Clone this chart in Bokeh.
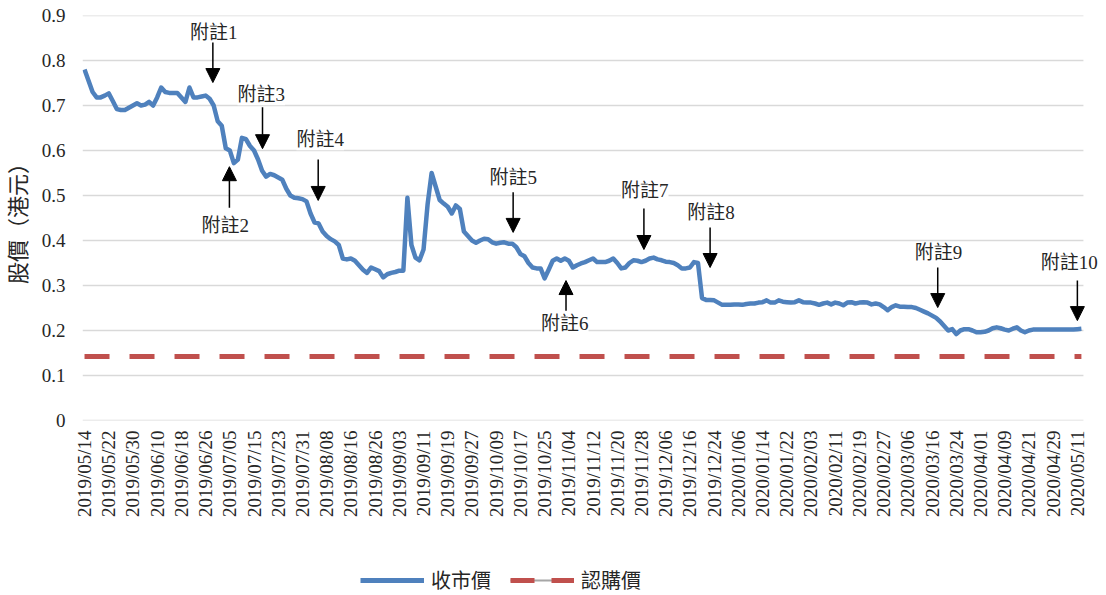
import math
from bokeh.plotting import figure
from bokeh.layouts import column
from bokeh.models import (Range1d, FixedTicker, Legend, LegendItem, Label,
                          Arrow, NormalHead, PrintfTickFormatter, ColumnDataSource)
from bokeh.embed import file_html
from bokeh.resources import INLINE

# ---------------- data ----------------
tick_labels = [
    "2019/05/14", "2019/05/22", "2019/05/30", "2019/06/10", "2019/06/18",
    "2019/06/26", "2019/07/05", "2019/07/15", "2019/07/23", "2019/07/31",
    "2019/08/08", "2019/08/16", "2019/08/26", "2019/09/03", "2019/09/11",
    "2019/09/19", "2019/09/27", "2019/10/09", "2019/10/17", "2019/10/25",
    "2019/11/04", "2019/11/12", "2019/11/20", "2019/11/28", "2019/12/06",
    "2019/12/16", "2019/12/24", "2020/01/06", "2020/01/14", "2020/01/22",
    "2020/02/03", "2020/02/11", "2020/02/19", "2020/02/27", "2020/03/06",
    "2020/03/16", "2020/03/24", "2020/04/01", "2020/04/09", "2020/04/21",
    "2020/04/29", "2020/05/11",
]
label_step = 6  # one date label every 6 trading days

close_price = [
    0.780, 0.755, 0.730, 0.718, 0.718, 0.722, 0.727, 0.710, 0.692, 0.690,
    0.690, 0.695, 0.700, 0.705, 0.700, 0.702, 0.708, 0.700, 0.718, 0.740,
    0.730, 0.728, 0.728, 0.728, 0.718, 0.708, 0.740, 0.718, 0.718, 0.720,
    0.722, 0.715, 0.700, 0.665, 0.655, 0.605, 0.600, 0.572, 0.580, 0.628,
    0.625, 0.610, 0.600, 0.580, 0.555, 0.542, 0.548, 0.545, 0.540, 0.535,
    0.515, 0.500, 0.495, 0.494, 0.492, 0.487, 0.460, 0.440, 0.438, 0.420,
    0.410, 0.403, 0.398, 0.390, 0.360, 0.358, 0.360, 0.355, 0.345, 0.335,
    0.328, 0.340, 0.336, 0.332, 0.318, 0.325, 0.328, 0.330, 0.333, 0.333,
    0.495, 0.390, 0.362, 0.356, 0.380, 0.480, 0.550, 0.520, 0.490, 0.482,
    0.475, 0.460, 0.478, 0.470, 0.420, 0.410, 0.400, 0.395, 0.400, 0.404,
    0.403, 0.396, 0.393, 0.395, 0.396, 0.393, 0.393, 0.385, 0.370, 0.365,
    0.350, 0.340, 0.338, 0.338, 0.316, 0.335, 0.355, 0.360, 0.355, 0.360,
    0.355, 0.340, 0.345, 0.349, 0.352, 0.356, 0.360, 0.352, 0.352, 0.352,
    0.355, 0.360, 0.350, 0.338, 0.340, 0.350, 0.356, 0.355, 0.352, 0.355,
    0.360, 0.362, 0.358, 0.356, 0.353, 0.352, 0.350, 0.345, 0.338, 0.338,
    0.340, 0.352, 0.350, 0.272, 0.268, 0.268, 0.267, 0.262, 0.257, 0.257,
    0.257, 0.258, 0.258, 0.257, 0.259, 0.260, 0.260, 0.262, 0.263, 0.267,
    0.262, 0.262, 0.267, 0.264, 0.263, 0.262, 0.263, 0.267, 0.263, 0.262,
    0.262, 0.260, 0.257, 0.260, 0.262, 0.258, 0.262, 0.260, 0.256, 0.262,
    0.263, 0.260, 0.262, 0.263, 0.262, 0.258, 0.260, 0.258, 0.252, 0.245,
    0.252, 0.256, 0.253, 0.253, 0.252, 0.252, 0.250, 0.246, 0.242, 0.238,
    0.233, 0.228, 0.220, 0.210, 0.200, 0.203, 0.192, 0.200, 0.203, 0.203,
    0.200, 0.196, 0.196, 0.197, 0.200, 0.205, 0.207, 0.205, 0.202, 0.200,
    0.204, 0.207, 0.200, 0.196, 0.200, 0.202, 0.202, 0.202, 0.202, 0.202,
    0.202, 0.202, 0.202, 0.202, 0.202, 0.202, 0.203, 0.204,
]
subscription_price = 0.142

y_ticks = [0, 0.1, 0.2, 0.3, 0.4, 0.5, 0.6, 0.7, 0.8, 0.9]

note_labels = ["附註1", "附註2", "附註3", "附註4", "附註5",
               "附註6", "附註7", "附註8", "附註9", "附註10"]
note_idx = [31.8, 35.9, 44.1, 57.9, 106.2, 119.3, 138.6, 155.0, 211.4, 246.0]
note_text_idx = [32.0, 34.9, 43.8, 58.4, 106.2, 119.0, 138.8, 155.2, 211.6, 244.0]
note_text_y = [0.862, 0.433, 0.724, 0.624, 0.540, 0.216, 0.511, 0.462, 0.373, 0.351]
note_arrow_from = [0.840, 0.473, 0.696, 0.580, 0.507, 0.244, 0.471, 0.429, 0.340, 0.311]
note_arrow_to = [0.751, 0.564, 0.604, 0.489, 0.418, 0.311, 0.380, 0.340, 0.251, 0.222]

series_names = ["收市價", "認購價"]
y_axis_title = "股價（港元）"

# ---------------- styling constants ----------------
N = len(close_price)
idx = list(range(N))
FONT = "'Liberation Serif', 'Noto Sans CJK TC'"
TXT = "#262626"
BLUE = "#4F81BD"
RED = "#C0504D"
PX_PER_DAY = 4.036
LEFT = 82
W = 1106
x_end = -0.5 + (W - LEFT) / PX_PER_DAY   # frame runs to the right edge

# ---------------- main chart ----------------
p = figure(width=W, height=569, output_backend="svg", toolbar_location=None,
           x_range=Range1d(-0.5, x_end), y_range=Range1d(0, 0.9),
           min_border_left=LEFT, min_border_right=0, min_border_top=15,
           min_border_bottom=149)
p.outline_line_color = None
p.background_fill_color = "white"
p.xgrid.grid_line_color = None
p.ygrid.grid_line_color = None

# horizontal gridlines limited to the plotted period
p.segment(x0=[-0.5] * len(y_ticks), x1=[N - 0.5] * len(y_ticks),
          y0=y_ticks, y1=y_ticks, line_color="#D9D9D9", line_width=1.5)

# y axis
p.yaxis.ticker = FixedTicker(ticks=y_ticks)
p.yaxis.formatter = PrintfTickFormatter(format="%.1f")
p.yaxis.major_label_overrides = {0: "0"}
p.yaxis.axis_line_color = None
p.yaxis.major_tick_line_color = None
p.yaxis.minor_tick_line_color = None
p.yaxis.major_tick_out = 0
p.yaxis.major_label_text_font = FONT
p.yaxis.major_label_text_font_size = "19px"
p.yaxis.major_label_text_color = TXT
p.yaxis.major_label_standoff = 17
p.yaxis.axis_label = y_axis_title
p.yaxis.axis_label_text_font = FONT
p.yaxis.axis_label_text_font_size = "22px"
p.yaxis.axis_label_text_font_style = "normal"
p.yaxis.axis_label_text_color = TXT
p.yaxis.axis_label_standoff = 8

# x axis
x_ticks = [i * label_step for i in range(len(tick_labels))]
p.xaxis.ticker = FixedTicker(ticks=x_ticks)
p.xaxis.major_label_overrides = {t: lab for t, lab in zip(x_ticks, tick_labels)}
p.xaxis.major_label_orientation = math.pi / 2
p.xaxis.axis_line_color = None
p.xaxis.major_tick_line_color = None
p.xaxis.minor_tick_line_color = None
p.xaxis.major_tick_out = 0
p.xaxis.major_label_text_font = FONT
p.xaxis.major_label_text_font_size = "19px"
p.xaxis.major_label_text_color = TXT
p.xaxis.major_label_standoff = 10

# series
src = ColumnDataSource(dict(x=idx, close=close_price,
                            sub=[subscription_price] * N))
p.line("x", "sub", source=src, line_color=RED, line_width=5, line_dash="25 20")
p.line("x", "close", source=src, line_color=BLUE, line_width=4.5,
       line_join="round")

# annotations
for lab, tx, ty in zip(note_labels, note_text_idx, note_text_y):
    p.add_layout(Label(x=tx, y=ty, text=lab, text_align="center",
                       text_baseline="middle", text_font=FONT,
                       text_font_size="19px", text_color=TXT,
                       background_fill_color="white"))
for ax, y0, y1 in zip(note_idx, note_arrow_from, note_arrow_to):
    p.add_layout(Arrow(x_start=ax, y_start=y0, x_end=ax, y_end=y1,
                       line_color="black", line_width=1.5,
                       end=NormalHead(size=14, fill_color="black",
                                      line_color="black")))

# ---------------- legend strip ----------------
# (its frame is aligned with the main chart's frame by the column layout)
lg = figure(width=W, height=26, output_backend="svg", toolbar_location=None,
            x_range=Range1d(0, 1), y_range=Range1d(0, 1),
            x_axis_type=None, y_axis_type=None,
            min_border_left=0, min_border_right=0, min_border_top=0,
            min_border_bottom=0)
lg.outline_line_color = None
lg.xgrid.grid_line_color = None
lg.ygrid.grid_line_color = None
# legend keys only: their points lie outside the strip's visible range
key_x = [0, 1]
key_y = [-1, -1]
k_blue = lg.line(x=key_x, y=key_y, line_color=BLUE, line_width=5)
k_gray = lg.line(x=key_x, y=key_y, line_color="#A6A6A6", line_width=2)
k_red = lg.line(x=key_x, y=key_y, line_color=RED, line_width=5,
                line_dash="24 17")
legend = Legend(items=[LegendItem(label=series_names[0], renderers=[k_blue]),
                       LegendItem(label=series_names[1], renderers=[k_gray, k_red])],
                orientation="horizontal", location=(278, 1),
                glyph_width=64, glyph_height=20, label_text_font=FONT,
                label_text_font_size="20px", label_text_color=TXT,
                border_line_color=None, background_fill_alpha=0,
                spacing=19, padding=0, margin=0, label_standoff=7)
lg.add_layout(legend)

layout = column(p, lg, spacing=0)
open("out.html", "w").write(file_html(layout, INLINE))
